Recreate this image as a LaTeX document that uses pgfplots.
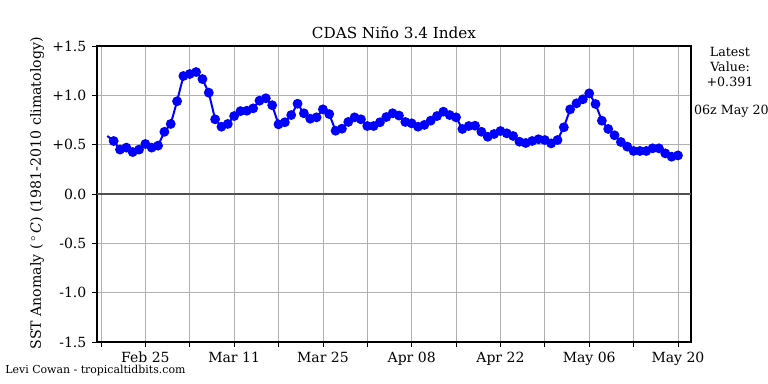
\documentclass[border=0pt]{standalone}
\usepackage{fontspec}
\setmainfont{DejaVu Serif}
\usepackage{pgfplots}
\pgfplotsset{compat=1.18}
\usepackage{pgfplotstable}
\pgfplotstableread{
d v
2 0.537
3 0.45
4 0.47
5 0.425
6 0.45
7 0.507
8 0.47
9 0.49
10 0.63
11 0.71
12 0.94
13 1.196
14 1.216
15 1.236
16 1.165
17 1.027
18 0.757
19 0.682
20 0.71
21 0.79
22 0.84
23 0.844
24 0.868
25 0.946
26 0.97
27 0.90
28 0.706
29 0.727
30 0.80
31 0.915
32 0.818
33 0.763
34 0.777
35 0.858
36 0.81
37 0.641
38 0.662
39 0.73
40 0.777
41 0.757
42 0.689
43 0.689
44 0.727
45 0.78
46 0.818
47 0.795
48 0.73
49 0.716
50 0.682
51 0.70
52 0.743
53 0.79
54 0.834
55 0.80
56 0.777
57 0.659
58 0.689
59 0.692
60 0.631
61 0.58
62 0.608
63 0.638
64 0.615
65 0.588
66 0.53
67 0.517
68 0.537
69 0.555
70 0.547
71 0.513
72 0.547
73 0.676
74 0.858
75 0.919
76 0.96
77 1.02
78 0.912
79 0.743
80 0.659
81 0.595
82 0.527
83 0.48
84 0.436
85 0.436
86 0.436
87 0.463
88 0.463
89 0.412
90 0.378
91 0.391
}\nino
\definecolor{gridgray}{RGB}{176,176,176}
\definecolor{zerogray}{RGB}{80,80,80}
\begin{document}
\begin{tikzpicture}
\useasboundingbox (0,0) rectangle (576pt,288pt);
\begin{axis}[
  at={(72.75pt,31.5pt)}, anchor=south west,
  scale only axis, width=445.5pt, height=222pt,
  xmin=-0.63, xmax=93.06, ymin=-1.5, ymax=1.5,
  xtick={0,7,...,91},
  xticklabels={,Feb 25,,Mar 11,,Mar 25,,Apr 08,,Apr 22,,May 06,,May 20},
  ytick={-1.5,-1,-0.5,0,0.5,1,1.5},
  yticklabels={-1.5,-1.0,-0.5,0.0,+0.5,+1.0,+1.5},
  tick align=outside, major tick length=3.5pt,
  tick style={black, line width=0.6pt},
  xtick pos=bottom, ytick pos=left,
  grid=major, major grid style={gridgray, line width=0.6pt},
  axis line style={black, line width=0.8pt},
  ticklabel style={font=\fontsize{10.5}{12}\selectfont},
  xticklabel style={yshift=-0.5pt},
  yticklabel style={xshift=-1pt},
  clip=true,
]
\draw[zerogray, line width=1.1pt] (rel axis cs:0,0.5) -- (rel axis cs:1,0.5);
\addplot[blue, line width=1.5pt] coordinates {(1,0.588) (2,0.537)};
\addplot[blue, line width=1.5pt, mark=*, mark size=2.9pt, mark options={fill=blue, draw=blue}] table[x=d, y=v] {\nino};
\end{axis}
\node[font=\fontsize{11.4}{13}\selectfont] at (295.5pt,263.25pt) {CDAS Niño 3.4 Index};
\node[rotate=90, font=\fontsize{10.6}{12}\selectfont] at (27.75pt,143pt) {SST Anomaly (\,\textsuperscript{$\circ$}\,\textit{C}) (1981-2010 climatology)};
\node[align=center, font=\fontsize{9.5}{11.25}\selectfont] at (547.5pt,237.75pt) {Latest\\Value:\\+0.391};
\node[font=\fontsize{9.5}{11.25}\selectfont] at (548.5pt,204.75pt) {06z May 20};
\node[anchor=west, font=\fontsize{8.2}{10}\selectfont, inner ysep=1pt] at (0.5pt,10.3pt) {Levi Cowan - tropicaltidbits.com};
\end{tikzpicture}
\end{document}
